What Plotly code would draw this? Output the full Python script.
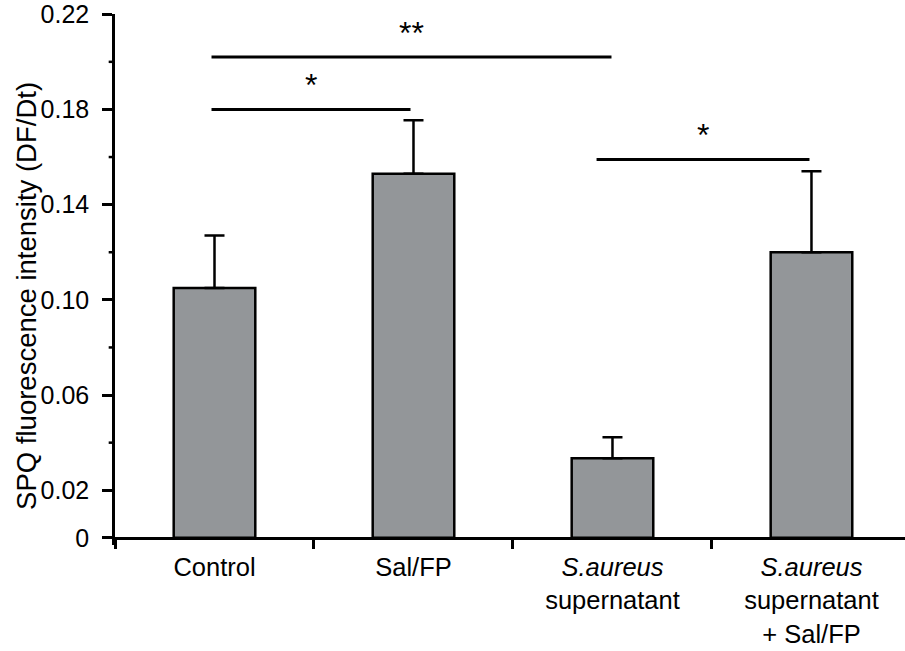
import plotly.graph_objects as go

categories = ["Control", "Sal/FP", "<i>S.aureus</i><br>supernatant", "<i>S.aureus</i><br>supernatant<br>+ Sal/FP"]
means = [0.105, 0.153, 0.0335, 0.120]
errors = [0.022, 0.0225, 0.0088, 0.034]

# significance comparisons: (left end, right end in category units, height, label)
sig_left = [-0.015, -0.015, 1.92]
sig_right = [0.985, 1.995, 2.99]
sig_height = [0.180, 0.202, 0.159]
sig_label = ["*", "**", "*"]

y_tickvals = [0, 0.02, 0.06, 0.10, 0.14, 0.18, 0.22]
y_ticktext = ["0", "0.02", "0.06", "0.10", "0.14", "0.18", "0.22"]
y_minor = [0.04, 0.08, 0.12, 0.16, 0.20]
y_title = "SPQ fluorescence intensity (DF/Dt)"

FONT = "Liberation Sans, Arial, Helvetica, sans-serif"

fig = go.Figure()
fig.add_trace(go.Bar(
    x=categories, y=means, width=0.41,
    marker=dict(color="#939699", line=dict(color="black", width=2.5)),
    error_y=dict(type="data", symmetric=False, array=errors,
                 arrayminus=[0] * len(errors), color="black",
                 thickness=2.5, width=10),
    showlegend=False,
))

shapes = []
annotations = []
for xl, xr, h, lab in zip(sig_left, sig_right, sig_height, sig_label):
    shapes.append(dict(type="line", xref="x", yref="y", x0=xl, x1=xr, y0=h, y1=h,
                       line=dict(color="black", width=3)))
    annotations.append(dict(x=(xl + xr) / 2, y=h, xref="x", yref="y", text=lab,
                            showarrow=False, yanchor="bottom", yshift=4,
                            font=dict(size=32, color="black", family=FONT)))

# minor y ticks
for v in y_minor:
    shapes.append(dict(type="line", xref="paper", yref="y", x0=-0.008, x1=0, y0=v, y1=v,
                       line=dict(color="black", width=2.5)))

# y axis title
annotations.append(dict(text=y_title, xref="paper", yref="paper", x=-0.1115, y=0.469,
                        xanchor="center", yanchor="middle", textangle=-90, showarrow=False,
                        font=dict(size=27.5, color="black", family=FONT)))

fig.update_layout(
    width=905, height=651,
    margin=dict(l=115, r=0, t=14, b=106, pad=0, autoexpand=False),
    plot_bgcolor="white", paper_bgcolor="white",
    font=dict(family=FONT, color="black", size=24),
    shapes=shapes, annotations=annotations,
)
fig.update_yaxes(
    range=[-0.003, 0.2201], tickvals=y_tickvals, ticktext=y_ticktext,
    ticks="outside", ticklen=10, tickwidth=2.5, tickcolor="black",
    showline=True, linewidth=2.5, linecolor="black", showgrid=False, zeroline=False,
    tickfont=dict(size=25, family=FONT), automargin=False,
    ticklabeloverflow="allow", ticklabelstandoff=8,
)
fig.update_xaxes(
    range=[-0.5, 3.47], anchor="free", position=0.003 / 0.223,
    tickson="boundaries", ticks="outside", ticklen=9, tickwidth=2.5, tickcolor="black",
    showline=True, linewidth=2.5, linecolor="black", showgrid=False,
    tickfont=dict(size=25.5, family=FONT), automargin=False,
    ticklabeloverflow="allow", ticklabelstandoff=6,
)

fig.write_html("out.html", config={"displayModeBar": False},
               post_script="document.body.style.margin='0';")
